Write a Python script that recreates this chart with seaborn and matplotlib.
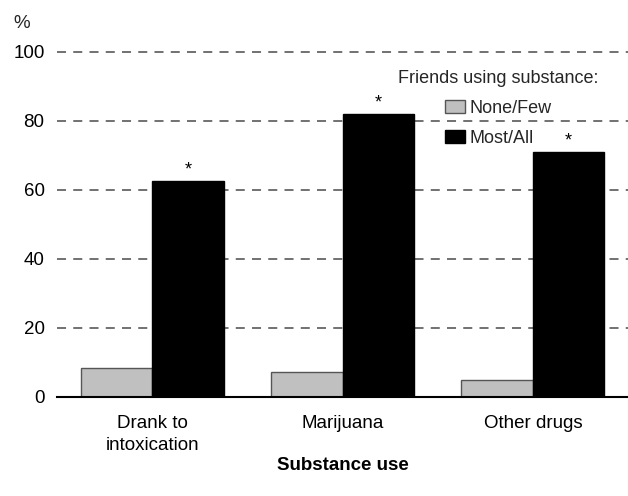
import matplotlib
matplotlib.use("Agg")
import matplotlib.pyplot as plt
import seaborn as sns
import pandas as pd

categories = ["Drank to\nintoxication", "Marijuana", "Other drugs"]
groups = ["None/Few", "Most/All"]
none_few = [8.3, 7.1, 4.8]
most_all = [62.4, 82.0, 70.8]
significant = ["*", "*", "*"]
y_ticks = [0, 20, 40, 60, 80, 100]

sns.set_theme(style="white")
plt.rcParams["font.family"] = ["Liberation Sans", "DejaVu Sans"]

df = pd.DataFrame({
    "Substance use": categories * 2,
    "group": [groups[0]] * 3 + [groups[1]] * 3,
    "value": none_few + most_all,
})

fig = plt.figure(figsize=(6.28, 4.96), dpi=100)
ax = fig.add_axes([0.0908, 0.2002, 0.9092, 0.7095])

sns.barplot(data=df, x="Substance use", y="value", hue="group",
            palette={"None/Few": "#c0c0c0", "Most/All": "#000000"},
            width=0.75, ax=ax, errorbar=None, saturation=1)

for p in ax.patches:
    fc = p.get_facecolor()
    p.set_edgecolor("#555555" if fc[0] > 0.5 else "#000000")
    p.set_linewidth(1.0)

# asterisks over the Most/All bars
container = ax.containers[1]
for bar, s in zip(container, significant):
    ax.text(bar.get_x() + bar.get_width() / 2, bar.get_height() + 3.2, s,
            ha="center", va="center", fontsize=13, color="black")

ax.set_xlim(-0.5, 2.5)
ax.set_ylim(0, 102)
ax.set_yticks(y_ticks)
ax.yaxis.grid(True, linestyle=(0, (5, 4)), color="#666666", linewidth=1.3)
ax.set_axisbelow(True)
for s in ["top", "right", "left"]:
    ax.spines[s].set_visible(False)
ax.spines["bottom"].set_color("black")
ax.spines["bottom"].set_linewidth(1.5)
ax.tick_params(axis="both", length=0, labelsize=13.5, colors="black")
ax.tick_params(axis="x", pad=13)
ax.tick_params(axis="y", pad=9)
for lbl in ax.get_xticklabels():
    lbl.set_linespacing(1.4)
ax.set_ylabel("")
ax.set_xlabel("Substance use", fontsize=13.5, fontweight="bold", labelpad=2,
              color="black")

fig.text(0.022, 0.952, "%", fontsize=13.5, ha="left", va="center")

handles, labels = ax.get_legend_handles_labels()
leg = ax.legend(handles, labels, title="Friends using substance:", frameon=False,
                fontsize=13, title_fontsize=13, loc="upper left",
                bbox_to_anchor=(0.614, 0.885), bbox_transform=fig.transFigure,
                handlelength=1.1, handleheight=0.7, handletextpad=0.3,
                labelspacing=0.72, borderpad=0.2)
for h in leg.legend_handles:
    h.set_edgecolor("#555555" if h.get_facecolor()[0] > 0.5 else "#000000")

fig.savefig("out.png", dpi=100)
